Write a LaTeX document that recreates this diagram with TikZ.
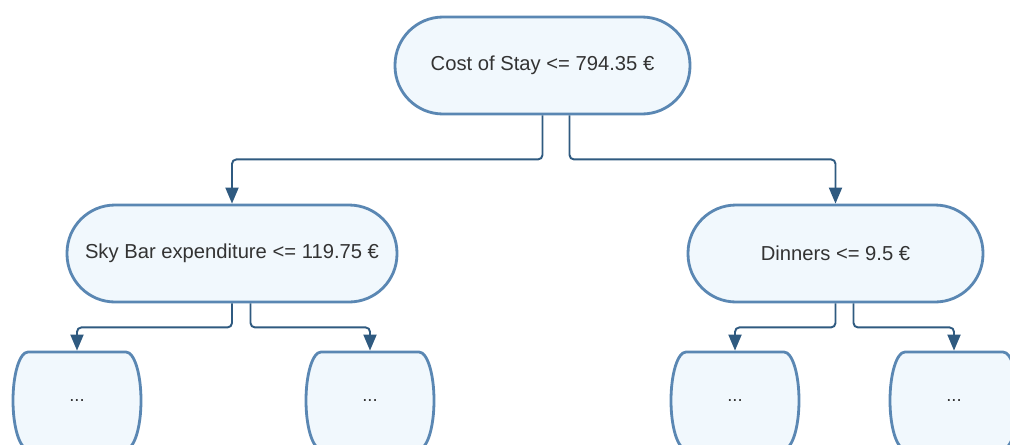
\documentclass[tikz,border=0pt]{standalone}
\usepackage{fontspec}
\setmainfont{Liberation Sans}
\usetikzlibrary{arrows.meta,backgrounds}
\definecolor{boxline}{HTML}{5A87B3}
\definecolor{boxfill}{HTML}{F1F8FD}
\definecolor{linkline}{HTML}{2F5A80}
\definecolor{txt}{HTML}{333333}
\begin{document}
\begin{tikzpicture}[line join=round, >={Triangle[length=0.32cm,width=0.26cm]},
  test/.style={draw=boxline, fill=boxfill, line width=1.6pt, rounded corners=0.96cm,
    minimum width=5.9cm, minimum height=1.94cm, text=txt, font=\fontsize{11.5}{14}\selectfont},
  leaf/.style={minimum width=2.56cm, minimum height=1.94cm, outer sep=0pt, text=txt,
    font=\fontsize{10.5}{12}\selectfont},
  leafline/.style={draw=boxline, fill=boxfill, line width=1.6pt},
  link/.style={draw=linkline, line width=1.1pt, rounded corners=2.5pt, ->, shorten >=0.8pt}]
\def\rx{0.3cm} \def\ry{0.97cm}
\useasboundingbox (0,0) rectangle (20.2,-8.88);
% splits
\node[test] (cost) at (10.85,-1.31) {Cost of Stay <= 794.35 €};
\node[test, minimum width=6.6cm] (sky) at (4.64,-5.07) {Sky Bar expenditure <= 119.75 €};
\node[test] (din) at (16.71,-5.07) {Dinners <= 9.5 €};
% leaves
\node[leaf] (skyl) at (1.54,-8.01) {...};
\node[leaf] (skyr) at (7.4,-8.01) {...};
\node[leaf] (dinl) at (14.7,-8.01) {...};
\node[leaf] (dinr) at (19.08,-8.01) {...};
\begin{scope}[on background layer]
\foreach \n in {skyl,skyr,dinl,dinr}
  \draw[leafline] (\n.west)
    arc[start angle=180,end angle=90,x radius=\rx,y radius=\ry]
    -- ([xshift=-\rx]\n.north east)
    arc[start angle=90,end angle=-90,x radius=\rx,y radius=\ry]
    -- ([xshift=\rx]\n.south west)
    arc[start angle=270,end angle=180,x radius=\rx,y radius=\ry] -- cycle;
\end{scope}
% connectors
\draw[link, shorten >=0pt] (cost.south) -- ++(0,-0.88) -| (sky.north);
\draw[link, shorten >=0pt] ([xshift=0.54cm]cost.south) -- ++(0,-0.88) -| (din.north);
\draw[link] (sky.south) -- ++(0,-0.48) -| (skyl.north);
\draw[link] ([xshift=0.37cm]sky.south) -- ++(0,-0.48) -| (skyr.north);
\draw[link] (din.south) -- ++(0,-0.48) -| (dinl.north);
\draw[link] ([xshift=0.36cm]din.south) -- ++(0,-0.48) -| (dinr.north);
\end{tikzpicture}
\end{document}
